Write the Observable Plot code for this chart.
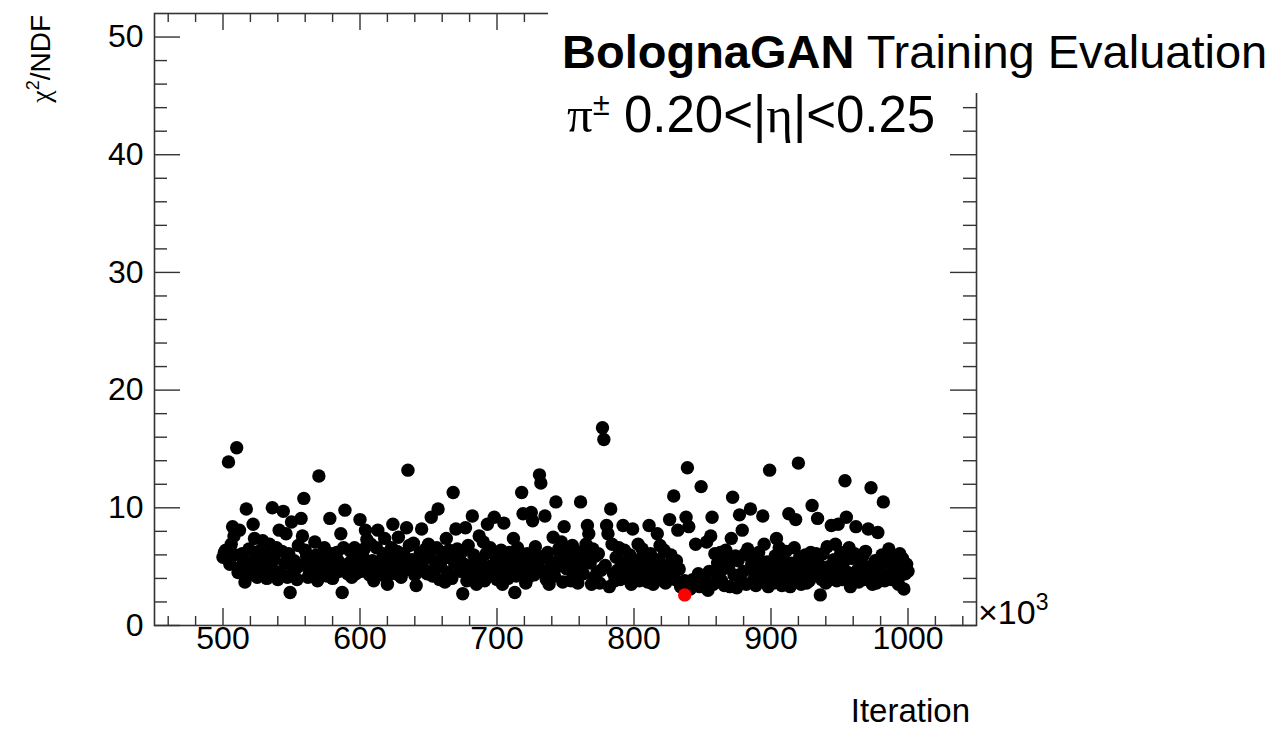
<!DOCTYPE html>
<html>
<head>
<meta charset="utf-8">
<script src="https://cdn.jsdelivr.net/npm/d3@7"></script>
<script src="https://cdn.jsdelivr.net/npm/@observablehq/plot@0.6"></script>
<style>
  body { margin: 0; background: #fff; }
  #chart svg { display: block; }
</style>
</head>
<body>
<div id="chart"></div>
<script>
// ---------------- data (iteration in units of 10^3, chi2/NDF) ----------------
const pts500 = [
  [500,5.8],[501,6.2],[502,6.4],[503,5.9],[504,13.9],[505,5.2],[506,6.9],[507,8.4],[508,7.6],[509,6.0],[510,15.1],[511,4.5],
  [512,8.1],[513,5.0],[514,6.1],[515,5.6],[516,3.7],[517,9.9],[518,4.2],[519,6.5],[520,4.7],[521,5.4],[522,8.6],[523,7.4],
  [524,5.9],[525,4.1],[526,6.3],[527,4.8],[528,5.1],[529,7.2],[530,4.4],[531,5.5],[532,4.0],[533,6.1],[534,6.9],[535,5.0],
  [536,10.0],[537,5.6],[538,4.6],[539,6.6],[540,3.9],[541,8.1],[542,4.5],[543,6.3],[544,9.7],[545,5.3],[546,7.8],[547,4.1],
  [548,6.1],[549,2.8],[550,8.8],[551,4.6],[552,5.5],[553,4.8],[554,3.9],[555,6.8],[556,5.1],[557,9.1],[558,7.6],[559,10.8],
  [560,6.4],[561,5.9],[562,4.1],[563,4.7],[564,5.5],[565,4.4],[566,5.1],[567,7.1],[568,6.0],[569,3.8],[570,12.7],[571,4.9],
  [572,5.8],[573,4.3],[574,6.6],[575,5.0],[576,4.2],[577,5.6],[578,9.1],[579,6.1],[580,4.0],[581,5.2],[582,4.5],[583,6.2],
  [584,5.5],[585,4.6],[586,7.8],[587,2.8],[588,6.6],[589,9.8],[590,5.0],[591,4.4],[592,5.3],[593,6.3],[594,4.1],[595,5.7],
  [596,6.6],[597,4.4],[598,5.5],[599,4.8]
];
const pts600 = [
  [600,9.0],[601,4.6],[602,5.9],[603,6.5],[604,8.1],[605,7.3],[606,5.0],[607,4.3],[608,6.9],[609,5.5],[610,3.8],[611,5.2],
  [612,6.6],[613,8.1],[614,4.6],[615,5.5],[616,4.3],[617,6.1],[618,7.4],[619,5.8],[620,3.5],[621,5.0],[622,4.4],[623,6.6],
  [624,8.6],[625,5.8],[626,4.4],[627,6.3],[628,7.5],[629,5.3],[630,4.1],[631,5.4],[632,6.1],[633,4.7],[634,8.3],[635,13.2],
  [636,6.8],[637,4.8],[638,5.6],[639,7.0],[640,4.3],[641,3.4],[642,5.5],[643,4.6],[644,6.2],[645,8.2],[646,4.9],[647,5.7],
  [648,6.5],[649,4.4],[650,6.9],[651,5.8],[652,9.2],[653,4.2],[654,4.7],[655,5.4],[656,6.6],[657,9.9],[658,3.9],[659,5.0],
  [660,6.2],[661,5.7],[662,3.7],[663,7.4],[664,4.5],[665,6.4],[666,5.8],[667,4.0],[668,11.3],[669,5.3],[670,8.2],[671,6.5],
  [672,5.6],[673,4.6],[674,6.2],[675,2.7],[676,5.2],[677,8.3],[678,3.8],[679,6.8],[680,4.6],[681,5.1],[682,9.3],[683,6.0],
  [684,4.1],[685,3.5],[686,5.5],[687,7.6],[688,4.7],[689,5.2],[690,7.1],[691,3.8],[692,6.1],[693,8.6],[694,5.0],[695,6.6],
  [696,4.4],[697,5.1],[698,9.2],[699,5.9]
];
const pts700 = [
  [700,3.9],[701,4.8],[702,5.5],[703,6.4],[704,3.5],[705,8.7],[706,5.7],[707,4.6],[708,4.0],[709,6.2],[710,5.1],[711,5.5],
  [712,7.4],[713,2.8],[714,4.2],[715,6.6],[716,5.6],[717,4.7],[718,11.3],[719,9.5],[720,4.4],[721,3.6],[722,6.1],[723,4.1],
  [724,5.2],[725,9.6],[726,8.9],[727,4.3],[728,6.7],[729,6.0],[730,5.0],[731,12.8],[732,12.1],[733,5.8],[734,4.6],[735,9.3],
  [736,3.9],[737,6.2],[738,3.5],[739,5.4],[740,4.5],[741,7.5],[742,4.2],[743,10.5],[744,5.0],[745,6.5],[746,5.9],[747,7.1],
  [748,3.7],[749,8.4],[750,5.1],[751,4.8],[752,6.2],[753,5.5],[754,3.8],[755,6.8],[756,4.3],[757,5.1],[758,6.3],[759,3.6],
  [760,5.8],[761,10.5],[762,5.0],[763,4.4],[764,6.0],[765,6.9],[766,8.5],[767,7.8],[768,5.3],[769,3.5],[770,6.5],[771,4.1],
  [772,5.9],[773,4.5],[774,6.1],[775,3.6],[776,4.7],[777,16.8],[778,15.8],[779,5.1],[780,8.5],[781,7.8],[782,3.3],[783,9.9],
  [784,6.9],[785,4.4],[786,3.8],[787,5.8],[788,4.7],[789,6.6],[790,3.9],[791,5.3],[792,8.5],[793,6.4],[794,4.9],[795,4.1],
  [796,5.4],[797,6.0],[798,3.5],[799,8.2]
];
const pts800 = [
  [800,5.0],[801,4.6],[802,5.5],[803,6.9],[804,3.8],[805,5.7],[806,6.5],[807,4.1],[808,5.2],[809,4.5],[810,3.7],[811,8.5],
  [812,6.1],[813,5.3],[814,3.5],[815,4.9],[816,4.3],[817,7.8],[818,5.6],[819,6.8],[820,3.9],[821,4.7],[822,6.4],[823,3.6],
  [824,5.1],[825,4.6],[826,9.0],[827,6.0],[828,4.1],[829,11.0],[830,3.9],[831,5.5],[832,8.1],[833,4.8],[834,3.3],[836,3.4],
  [837,3.8],[838,9.2],[839,13.4],[840,8.4],[841,3.1],[842,3.5],[843,3.9],[844,3.7],[845,6.9],[847,4.4],[848,3.3],[849,11.8],
  [850,3.4],[851,3.6],[852,4.2],[853,7.1],[854,3.0],[855,4.6],[856,7.6],[857,9.2],[858,3.5],[859,6.1],[860,4.5],[861,5.3],
  [862,4.1],[863,6.2],[864,3.8],[865,4.8],[866,3.4],[867,6.4],[868,5.6],[869,4.9],[870,3.3],[871,7.4],[872,10.9],[873,4.3],
  [874,5.9],[875,3.2],[876,5.5],[877,9.4],[878,3.8],[879,8.1],[880,4.6],[881,6.1],[882,3.5],[883,6.5],[884,5.9],[885,9.9],
  [886,5.2],[887,3.8],[888,4.5],[889,3.4],[890,5.6],[891,6.2],[892,4.1],[893,4.8],[894,9.3],[895,6.9],[896,3.9],[897,5.4],
  [898,3.3],[899,13.2]
];
const pts900 = [
  [900,4.6],[901,5.1],[902,3.6],[903,5.9],[904,7.4],[905,4.4],[906,6.6],[907,5.2],[908,3.4],[909,5.5],[910,4.0],[911,6.3],
  [912,5.0],[913,9.5],[914,3.3],[915,5.3],[916,4.1],[917,6.6],[918,9.0],[919,4.5],[920,13.8],[921,5.8],[922,3.5],[923,5.3],
  [924,4.1],[925,6.0],[926,3.6],[927,4.9],[928,3.8],[929,6.2],[930,10.2],[931,5.6],[932,4.4],[933,6.1],[934,9.1],[935,5.2],
  [936,2.6],[937,3.9],[938,6.1],[939,4.5],[940,3.6],[941,6.7],[942,5.0],[943,4.7],[944,8.5],[945,4.3],[946,5.6],[947,6.9],
  [948,3.8],[949,8.6],[950,4.9],[951,6.2],[952,3.9],[953,5.4],[954,12.3],[955,9.2],[956,4.5],[957,6.6],[958,3.3],[959,5.7],
  [960,4.0],[961,6.1],[962,8.4],[963,4.7],[964,3.7],[965,5.3],[966,4.4],[967,5.9],[968,3.9],[969,6.3],[970,4.8],[971,8.2],
  [972,5.0],[973,11.7],[974,3.5],[975,4.2],[976,5.5],[977,3.6],[978,7.9],[979,5.2],[980,4.6],[981,6.0],[982,10.5],[983,3.8],
  [984,4.1],[985,5.4],[986,6.5],[987,4.3],[988,3.9],[989,5.0],[990,5.8],[991,4.6],[992,5.3],[993,3.5],[994,6.1],[995,4.3],
  [996,5.7],[997,3.1],[998,4.4],[999,5.2],[1000,4.6]
];
// best (minimum chi2) iteration, drawn in red
const bestPoint = [[837,2.6]];

const xMajorTicks = [500,600,700,800,900,1000];
const xTickLabels = ["500","600","700","800","900","1000"];
const yMajorTicks = [0,10,20,30,40,50];
const yTickLabels = ["0","10","20","30","40","50"];
const xMinorTicks = d3.range(460, 1050, 20).filter(v => v % 100 !== 0);
const yMinorTicks = d3.range(2, 52, 2).filter(v => v % 10 !== 0);

const titleBold = "BolognaGAN";
const titleRest = " Training Evaluation";
const xTitle = "Iteration";

// ---------------- layout ----------------
const W = 1277, H = 731;
const mL = 154, mR = 301, mT = 13, mB = 106;
const frameW = W - mL - mR, frameH = H - mT - mB;
const SANS = "'Liberation Sans', Arial, Helvetica, sans-serif";
const SERIF = "'Liberation Serif', 'DejaVu Serif', serif";
const AX = "#333";

const toObj = ([iter, chi2]) => ({iter, chi2});
const points = [...pts500, ...pts600, ...pts700, ...pts800, ...pts900].map(toObj);
const best = bestPoint.map(toObj);

const plot = Plot.plot({
  width: W, height: H,
  marginLeft: mL, marginRight: mR, marginTop: mT, marginBottom: mB,
  x: {domain: [450, 1050], axis: null},
  y: {domain: [0, 52], axis: null},
  style: {fontFamily: SANS, background: "white", color: "black"},
  marks: [
    Plot.dot(points, {x: "iter", y: "chi2", r: 6.7, fill: "black", stroke: "none"}),
    Plot.dot(best, {x: "iter", y: "chi2", r: 6.7, fill: "#ff0000", stroke: "none"}),
    // bottom ticks
    Plot.ruleX(xMajorTicks, {x: d => d, insetTop: frameH - 17, stroke: AX, strokeWidth: 1.4}),
    Plot.ruleX(xMinorTicks, {x: d => d, insetTop: frameH - 9, stroke: AX, strokeWidth: 1.4}),
    // top ticks
    Plot.ruleX(xMajorTicks, {x: d => d, insetBottom: frameH - 17, stroke: AX, strokeWidth: 1.4}),
    Plot.ruleX(xMinorTicks, {x: d => d, insetBottom: frameH - 9, stroke: AX, strokeWidth: 1.4}),
    // left ticks
    Plot.ruleY(yMajorTicks, {y: d => d, insetRight: frameW - 26, stroke: AX, strokeWidth: 1.4}),
    Plot.ruleY(yMinorTicks, {y: d => d, insetRight: frameW - 13, stroke: AX, strokeWidth: 1.4}),
    // right ticks
    Plot.ruleY(yMajorTicks, {y: d => d, insetLeft: frameW - 26, stroke: AX, strokeWidth: 1.4}),
    Plot.ruleY(yMinorTicks, {y: d => d, insetLeft: frameW - 13, stroke: AX, strokeWidth: 1.4}),
    Plot.frame({stroke: AX, strokeWidth: 1.6}),
    Plot.text(xMajorTicks, {x: d => d, frameAnchor: "bottom", dy: 23, text: (d, i) => xTickLabels[i],
      fontSize: 32, fill: "black"}),
    Plot.text(yMajorTicks, {y: d => d, frameAnchor: "left", dx: -11, textAnchor: "end",
      text: (d, i) => yTickLabels[i], fontSize: 32, fill: "black"})
  ]
});

document.getElementById("chart").appendChild(plot);

// ---------------- annotations (ROOT style) ----------------
const svg = d3.select(plot);
// title pave (white box that hides part of the frame)
svg.append("rect").attr("x", 548).attr("y", 0).attr("width", W - 548).attr("height", 93).attr("fill", "white");

const t1 = svg.append("text").attr("x", 562).attr("y", 68).attr("text-anchor", "start")
  .style("font-family", SANS).style("font-size", "47px").attr("fill", "black");
t1.append("tspan").style("font-weight", "bold").text(titleBold);
t1.append("tspan").text(titleRest);

const t2 = svg.append("text").attr("x", 567).attr("y", 132).attr("text-anchor", "start")
  .style("font-family", SANS).style("font-size", "51px").attr("fill", "black");
t2.append("tspan").style("font-family", SERIF).text("π");
t2.append("tspan").attr("dy", -17).style("font-size", "31px").text("±");
t2.append("tspan").attr("dy", 17).text(" 0.20<|");
t2.append("tspan").style("font-family", SERIF).text("η");
t2.append("tspan").text("|<0.25");

// x10^3 multiplier
const t3 = svg.append("text").attr("x", 978).attr("y", 624).attr("text-anchor", "start")
  .style("font-family", SANS).style("font-size", "34px").attr("fill", "black");
t3.append("tspan").text("×10");
t3.append("tspan").attr("dy", -14).style("font-size", "23px").text("3");

// x axis title
svg.append("text").attr("x", 970).attr("y", 722).attr("text-anchor", "end")
  .style("font-family", SANS).style("font-size", "33px").attr("fill", "black").text(xTitle);

// y axis title
const ty = svg.append("text").attr("transform", "translate(50,15) rotate(-90)").attr("text-anchor", "end")
  .style("font-family", SANS).style("font-size", "28px").attr("fill", "black");
ty.append("tspan").style("font-family", SERIF).text("χ");
ty.append("tspan").attr("dy", -11).style("font-size", "18px").text("2");
ty.append("tspan").attr("dy", 11).text("/NDF");
</script>
</body>
</html>
